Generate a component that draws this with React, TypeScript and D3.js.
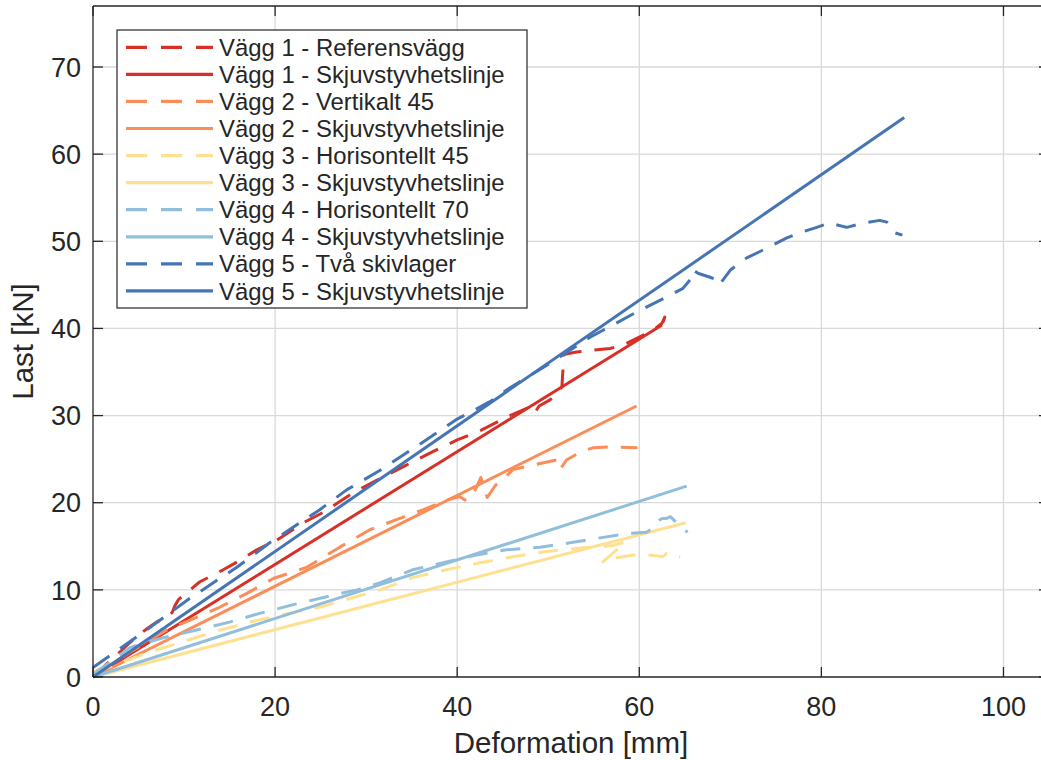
import React, { useEffect, useRef } from "react";
import * as d3 from "d3";

type Pt = [number, number];

const xTicks = [0, 20, 40, 60, 80, 100];
const yTicks = [0, 10, 20, 30, 40, 50, 60, 70];

const seriesNames = [
  "Vägg 1 - Referensvägg",
  "Vägg 1 - Skjuvstyvhetslinje",
  "Vägg 2 - Vertikalt 45",
  "Vägg 2 - Skjuvstyvhetslinje",
  "Vägg 3 - Horisontellt 45",
  "Vägg 3 - Skjuvstyvhetslinje",
  "Vägg 4 - Horisontellt 70",
  "Vägg 4 - Skjuvstyvhetslinje",
  "Vägg 5 - Två skivlager",
  "Vägg 5 - Skjuvstyvhetslinje",
];
const seriesColors = [
  "#d73027", "#d73027",
  "#fc8d59", "#fc8d59",
  "#fee090", "#fee090",
  "#91bfdb", "#91bfdb",
  "#4575b4", "#4575b4",
];
const seriesDashed = [true, false, true, false, true, false, true, false, true, false];

const vagg1Test: Pt[] = [
  [0, 0.3], [1, 1.0], [2, 2.0], [3, 2.9], [4, 3.9], [5, 4.8], [6, 5.6], [7, 6.3], [8, 6.9],
  [8.7, 7.4], [9.0, 8.2], [9.4, 8.9], [10, 9.4], [11.7, 10.9], [14.3, 12.3], [16, 13.3],
  [18, 14.6], [20.2, 15.7], [23.1, 17.7], [25.3, 18.9], [28.5, 21.1], [31.2, 22.6],
  [34.2, 24.2], [37, 25.7], [40, 27.2], [42.6, 28.3], [45.8, 30.0], [48, 31.0], [48.5, 30.3],
  [49, 31.1], [50.2, 31.8], [51.1, 32.6], [51.5, 33.3], [51.6, 35], [51.7, 37.0], [53.1, 37.3],
  [54.9, 37.5], [56.8, 37.7], [58.2, 38.1], [60, 39], [61.5, 39.8], [62.5, 40.6], [62.8, 41.3],
  [62.5, 40.3],
];
const vagg1Line: Pt[] = [[0, 0], [62.5, 40.4]];

const vagg2Test: Pt[] = [
  [0, 0.5], [2, 1.5], [4, 2.8], [5.9, 4.0], [8.1, 5.4], [10.6, 6.5], [13.9, 8.0], [16.9, 9.6],
  [19.8, 11.3], [23.5, 12.6], [27.1, 14.9], [30.4, 16.9], [33.7, 18.2], [36.3, 19.2],
  [38.8, 20.3], [40.3, 20.7], [41.0, 20.2], [42.0, 21.5], [42.6, 22.9], [43.0, 21.5],
  [43.3, 20.6], [44.2, 22.0], [45, 22.6], [46.1, 23.8], [49.1, 24.5], [50.9, 24.9],
  [51.3, 23.8], [52, 24.9], [53.5, 25.8], [54.9, 26.3], [56.8, 26.4], [59.8, 26.3],
];
const vagg2Line: Pt[] = [[0, 0], [59.7, 31.1]];

const vagg3Test: Pt[] = [
  [0, 0.5], [3, 1.6], [6, 2.8], [10, 4.1], [14, 5.4], [18, 6.5], [21.5, 7.3], [24.9, 8.0],
  [28.5, 9.1], [31.5, 10.0], [35.1, 11.4], [38.8, 12.3], [42.5, 13.1], [46.1, 13.8],
  [49.8, 14.4], [53.5, 14.8], [57.1, 15.1], [58.5, 15.5], [56, 13.2], [57.1, 13.6],
  [59.3, 14.0], [61.2, 14.0], [62.6, 13.8], [63, 14.2], [63.7, 13.8], [64.5, 13.8],
];
const vagg3Line: Pt[] = [[0, 0], [65.1, 17.7]];

const vagg4Test: Pt[] = [
  [0, 0.3], [2, 1.8], [4.1, 3.4], [7.7, 4.5], [11.4, 5.4], [15, 6.3], [18.3, 7.3], [22, 8.3],
  [26.4, 9.4], [29, 10.0], [31.5, 10.8], [35.1, 12.3], [38.8, 13.2], [42.1, 14.0],
  [45.4, 14.6], [49.1, 14.9], [52.4, 15.4], [55.3, 15.9], [59, 16.5], [60.8, 16.6],
  [61.5, 17.1], [61.9, 17.8], [62.5, 18.2], [63, 18.2], [63.4, 18.4], [64.1, 17.7],
  [64.8, 17.1], [65.3, 16.6],
];
const vagg4Line: Pt[] = [[0, 0], [65.2, 21.9]];

const vagg5Test: Pt[] = [
  [0, 1.1], [2.2, 2.7], [5.9, 5.4], [10.6, 9.0], [15.8, 12.6], [19.4, 15.4], [24.9, 19.2],
  [27.9, 21.5], [31.5, 23.7], [36.3, 27.0], [40, 29.6], [43.6, 31.6], [45.8, 33.2],
  [50.2, 36.0], [54.6, 39.0], [57.1, 40.4], [60.1, 42.1], [63, 43.6], [64.8, 44.6],
  [65.6, 45.6], [65.9, 46.7], [66.5, 46.3], [67.7, 45.9], [68.5, 45.6], [68.8, 45.0],
  [70, 46.7], [71.8, 48.1], [73.2, 48.8], [74.7, 49.6], [76.2, 50.4], [78, 51.1],
  [79.5, 51.6], [80.9, 52.1], [82.8, 51.6], [84.6, 52.1], [86.4, 52.4], [87.2, 52.2],
  [87.7, 51.6], [88.0, 51.0], [88.9, 50.7],
];
const vagg5Line: Pt[] = [[0, 0], [89.1, 64.2]];

const seriesData: Pt[][] = [
  vagg1Test, vagg1Line, vagg2Test, vagg2Line, vagg3Test, vagg3Line,
  vagg4Test, vagg4Line, vagg5Test, vagg5Line,
];

const W = 1041;
const H = 760;
const M = { left: 93, right: 1049, top: 6, bottom: 677 };
const FONT = "'Liberation Sans', Arial, Helvetica, sans-serif";
const TXT = "#262626";

export default function App() {
  const ref = useRef<SVGSVGElement | null>(null);

  useEffect(() => {
    const svg = d3.select(ref.current);
    svg.selectAll("*").remove();

    const x = d3.scaleLinear().domain([0, 105]).range([M.left, M.right]);
    const y = d3.scaleLinear().domain([0, 77]).range([M.bottom, M.top]);

    svg.append("rect").attr("x", 0).attr("y", 0).attr("width", W).attr("height", H).attr("fill", "#fff");

    // grid
    const g = svg.append("g");
    xTicks.forEach((t) => {
      if (t === 0) return;
      g.append("line").attr("x1", x(t)).attr("x2", x(t)).attr("y1", M.top).attr("y2", M.bottom)
        .attr("stroke", "#d9d9d9").attr("stroke-width", 1.3);
    });
    yTicks.forEach((t) => {
      if (t === 0) return;
      g.append("line").attr("x1", M.left).attr("x2", M.right).attr("y1", y(t)).attr("y2", y(t))
        .attr("stroke", "#d9d9d9").attr("stroke-width", 1.3);
    });

    // data
    const line = d3.line<Pt>().x((d) => x(d[0])).y((d) => y(d[1]));
    seriesData.forEach((data, i) => {
      svg.append("path").attr("d", line(data) || "")
        .attr("fill", "none").attr("stroke", seriesColors[i]).attr("stroke-width", 3)
        .attr("stroke-dasharray", seriesDashed[i] ? "20,13" : null)
        .attr("stroke-linejoin", "round");
    });

    // axes box
    const ax = svg.append("g").attr("stroke", TXT).attr("stroke-width", 1.3);
    ax.append("line").attr("x1", M.left).attr("x2", M.right).attr("y1", M.bottom).attr("y2", M.bottom);
    ax.append("line").attr("x1", M.left).attr("x2", M.right).attr("y1", M.top).attr("y2", M.top);
    ax.append("line").attr("x1", M.left).attr("x2", M.left).attr("y1", M.top).attr("y2", M.bottom);
    ax.append("line").attr("x1", M.right).attr("x2", M.right).attr("y1", M.top).attr("y2", M.bottom);
    const TL = 10;
    xTicks.forEach((t) => {
      ax.append("line").attr("x1", x(t)).attr("x2", x(t)).attr("y1", M.bottom).attr("y2", M.bottom - TL);
      ax.append("line").attr("x1", x(t)).attr("x2", x(t)).attr("y1", M.top).attr("y2", M.top + TL);
    });
    yTicks.forEach((t) => {
      ax.append("line").attr("x1", M.left).attr("x2", M.left + TL).attr("y1", y(t)).attr("y2", y(t));
      ax.append("line").attr("x1", M.right).attr("x2", M.right - TL).attr("y1", y(t)).attr("y2", y(t));
    });

    // tick labels
    xTicks.forEach((t) => {
      svg.append("text").attr("x", x(t)).attr("y", 716).attr("text-anchor", "middle")
        .attr("font-family", FONT).attr("font-size", 27).attr("fill", TXT).text(String(t));
    });
    yTicks.forEach((t) => {
      svg.append("text").attr("x", 81).attr("y", y(t)).attr("dy", "0.36em").attr("text-anchor", "end")
        .attr("font-family", FONT).attr("font-size", 27).attr("fill", TXT).text(String(t));
    });

    svg.append("text").attr("x", (M.left + M.right) / 2).attr("y", 753).attr("text-anchor", "middle")
      .attr("font-family", FONT).attr("font-size", 29.5).attr("fill", TXT).text("Deformation [mm]");
    svg.append("text").attr("transform", `translate(33,${(M.top + M.bottom) / 2}) rotate(-90)`)
      .attr("text-anchor", "middle").attr("font-family", FONT).attr("font-size", 29.5)
      .attr("fill", TXT).text("Last [kN]");

    // legend
    const lg = svg.append("g");
    lg.append("rect").attr("x", 117).attr("y", 30).attr("width", 410).attr("height", 278)
      .attr("fill", "#fff").attr("stroke", TXT).attr("stroke-width", 1.2);
    seriesNames.forEach((name, i) => {
      const cy = 47.3 + i * 27.07;
      lg.append("line").attr("x1", 126).attr("x2", 213).attr("y1", cy).attr("y2", cy)
        .attr("stroke", seriesColors[i]).attr("stroke-width", 3.2)
        .attr("stroke-dasharray", seriesDashed[i] ? "21,14" : null);
      lg.append("text").attr("x", 219).attr("y", cy).attr("dy", "0.36em")
        .attr("font-family", FONT).attr("font-size", 23.9).attr("fill", TXT).text(name);
    });
  }, []);

  return (
    <svg ref={ref} width={W} height={H}
      style={{ position: "absolute", left: 0, top: 0, display: "block", overflow: "hidden" }} />
  );
}
